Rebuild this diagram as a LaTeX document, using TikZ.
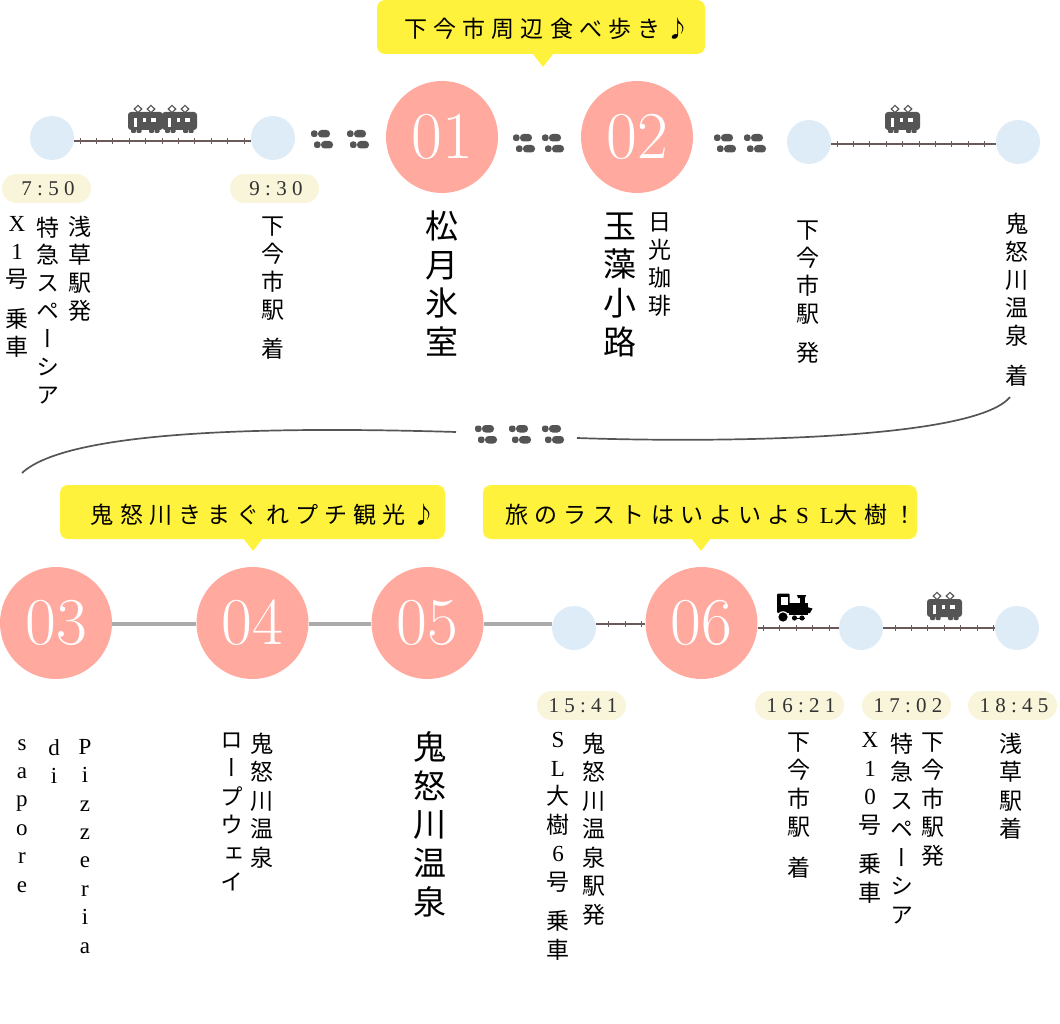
\documentclass[tikz,border=0pt]{standalone}
\usepackage{fontspec}
\newfontfamily\vertfont[RawFeature=+vert]{Noto Sans CJK JP}
\newfontfamily\bandfont[LetterSpace=27]{Noto Sans CJK JP}
\newfontfamily\romfont{Liberation Serif}
\newfontfamily\bandrom[LetterSpace=48]{Liberation Serif}
\newfontfamily\numfont[LetterSpace=25]{Liberation Serif}
\definecolor{stopred}{HTML}{FFA99F}
\definecolor{halt}{HTML}{DEECF8}
\definecolor{pill}{HTML}{F8F5DA}
\definecolor{band}{HTML}{FFF23C}
\definecolor{railcol}{HTML}{6A5A5A}
\definecolor{iconcol}{HTML}{555555}
\definecolor{road}{HTML}{ABABAB}
\tikzset{
	stop/.style={circle,fill=stopred,minimum size=112pt,inner sep=0pt,text=white,text height=43pt,text depth=0pt,font=\fontsize{67}{67}\selectfont},
	haltdot/.style={circle,fill=halt,minimum size=44pt,inner sep=0pt},
	timepill/.style={rectangle,rounded corners=14.5pt,fill=pill,minimum width=89pt,minimum height=29pt,inner sep=0pt,text=black!80,font=\numfont\fontsize{21}{21}\selectfont,execute at begin node=\kern3pt},
	bandbox/.style={rectangle,rounded corners=8pt,fill=band,minimum height=54pt,inner sep=0pt,text height=22pt,text depth=0pt,font=\bandfont\fontsize{23}{23}\selectfont},
	vsmall/.style={anchor=north,inner sep=0pt,align=center,font=\vertfont\fontsize{23}{27.9}\selectfont,execute at begin node=\strut},
	vlow/.style={anchor=north,inner sep=0pt,align=center,font=\vertfont\fontsize{23}{28.5}\selectfont,execute at begin node=\strut},
	vrom/.style={anchor=north,inner sep=0pt,align=center,font=\romfont\fontsize{23}{28.4}\selectfont,execute at begin node=\strut},
	vbig/.style={anchor=north,inner sep=0pt,align=center,font=\vertfont\fontsize{33}{38.6}\selectfont,execute at begin node=\strut},
	rail/.style={draw=railcol,line width=1.4pt},
	railtick/.style={draw=railcol,line width=.9pt},
	roadline/.style={draw=road,line width=4pt},
	traincar/.pic={
		\fill[iconcol,rounded corners=3pt] (0,7) rectangle (35,25);
		\foreach \w in {3,8.5,21,26.5} \fill[iconcol,rounded corners=1pt] (\w,24) rectangle (\w+5,28);
		\foreach \w in {10,23} \draw[iconcol,line width=1.1pt] (\w,0.4) -- (\w+3.8,4) -- (\w,7.6) -- (\w-3.8,4) -- cycle;
		\fill[white] (6,13) rectangle (9,22);
		\fill[white] (15,13) rectangle (18,17);
		\fill[white] (23,13) rectangle (28,17);
	},
	loco/.pic={
		\fill[black,rounded corners=1pt] (0,0.5) rectangle (12.5,20);
		\fill[black] (12,10) rectangle (31,20);
		\fill[black] (23,3) rectangle (27.5,11);
		\fill[black] (20,2) -- (29,2) -- (28,5) -- (21,5) -- cycle;
		\fill[black] (30,14) -- (35.5,15.5) -- (33,20) -- (30,20) -- cycle;
		\fill[white] (4,4) rectangle (10.5,11.5);
		\fill[white] (6,24) circle (5.8pt);
		\fill[black] (6,24) circle (4.6pt);
		\fill[black] (17.5,25) circle (2.6pt);
		\fill[black] (25,25) circle (2.6pt);
		\draw[black,line width=1pt] (17.5,25) -- (28,25);
		\fill[black] (12,20) rectangle (31,21.5);
	},
	feet/.pic={
		\foreach \dx/\dy in {0/0,3/11} {
			\fill[iconcol,rounded corners=2.5pt] (\dx,\dy+.5) rectangle (\dx+6.5,\dy+7);
			\fill[iconcol,rounded corners=3.5pt] (\dx+7,\dy) rectangle (\dx+19,\dy+7.5);
		}
	}
}
\begin{document}
\begin{tikzpicture}[x=1pt,y=-1pt]
\useasboundingbox (0,0) rectangle (1060,1024);
% yellow bands
\path (541,27) node[bandbox,minimum width=328pt] (band1) {\hspace*{12pt}下今市周辺食べ歩き♪}
		(252.5,512) node[bandbox,minimum width=385pt] (band2) {\hspace*{21pt}鬼怒川きまぐれプチ観光♪}
		(700,512) node[bandbox,minimum width=434pt] (band3) {\hspace*{22pt}旅のラストはいよいよ\kern6pt{\bandrom SL}\kern1pt 大樹！}
		;
\coordinate (tip1) at (543,67);
\coordinate (tip2) at (253,551);
\coordinate (tip3) at (701,551);
\foreach \t in {tip1,tip2,tip3}
	\fill[band] (\t) -- ++(-10,-13) -- ++(20,0) -- cycle;
% stops
\path (442,137) node[stop] (s01) {01}
		(637,137) node[stop] (s02) {02}
		(56,623) node[stop] (s03) {03}
		(252.5,623) node[stop] (s04) {04}
		(427.5,623) node[stop] (s05) {05}
		(701.5,623) node[stop] (s06) {06}
		(52,138) node[haltdot] (h1) {}
		(273,138) node[haltdot] (h2) {}
		(809,142) node[haltdot] (h3) {}
		(1018,142) node[haltdot] (h4) {}
		(574,628) node[haltdot] (h5) {}
		(861,628) node[haltdot] (h6) {}
		(1017,628) node[haltdot] (h7) {}
		;
% times
\path (46.5,188.5) node[timepill] (t750) {7:50}
		(274.5,188.5) node[timepill] (t930) {9:30}
		(581.5,705.5) node[timepill] (t1541) {15:41}
		(799.5,705.5) node[timepill] (t1621) {16:21}
		(906.5,705.5) node[timepill] (t1702) {17:02}
		(1012.5,705.5) node[timepill] (t1845) {18:45}
		;
% labels, upper row
\path (80,216.5) node[vsmall] (asakusa) {浅\\草\\駅\\発}
		(48,216.5) node[vsmall] (spacia) {特\\急\\ス\\ペ\\ー\\シ\\ア}
		(17,216.5) node[vsmall] (x1) {{\romfont X}\\{\romfont 1}\\号\\[12pt]乗\\車}
		(273,216.5) node[vsmall] (shimo1) {下\\今\\市\\駅\\[12pt]着}
		(442,210.5) node[vbig] (matsu) {松\\月\\氷\\室}
		(620,212.5) node[vbig] (tamamo) {玉\\藻\\小\\路}
		(660,212.5) node[vsmall] (nikko) {日\\光\\珈\\琲}
		(808,220.5) node[vsmall] (shimo2) {下\\今\\市\\駅\\[12pt]発}
		(1017,213) node[vsmall] (kinu1) {鬼\\怒\\川\\温\\泉\\[12pt]着}
		;
% labels, lower row
\path (85,739) node[vrom] (pizz) {P\\i\\z\\z\\e\\r\\i\\a}
		(54,739) node[vrom] (di) {d\\i}
		(22,739) node[vrom] (sapore) {s\\a\\p\\o\\r\\e}
		(262,732.5) node[vlow] (kinu2) {鬼\\怒\\川\\温\\泉}
		(232,732.5) node[vlow] (rope) {ロ\\ー\\プ\\ウ\\ェ\\イ}
		(430,731.5) node[vbig] (kinu3) {鬼\\怒\\川\\温\\泉}
		(594,732.5) node[vlow] (kinu4) {鬼\\怒\\川\\温\\泉\\駅\\発}
		(558,732.5) node[vlow] (taiju) {{\romfont S}\\{\romfont L}\\大\\樹\\{\romfont 6}\\号\\[11pt]乗\\車}
		(799,732.5) node[vlow] (shimo3) {下\\今\\市\\駅\\[12pt]着}
		(933,732.5) node[vlow] (shimo4) {下\\今\\市\\駅\\発}
		(902,732.5) node[vlow] (spacia2) {特\\急\\ス\\ペ\\ー\\シ\\ア}
		(870,732.5) node[vlow] (x10) {{\romfont X}\\{\romfont 1}\\{\romfont 0}\\号\\[11pt]乗\\車}
		(1011,732.5) node[vlow] (asakusa2) {浅\\草\\駅\\着}
		;
% rails
\draw[rail] ([yshift=-3pt]h1.east) -- ([yshift=-3pt]h2.west);
\foreach \x in {80,96.4,...,246}
	\draw[railtick] (\x,138) -- (\x,144);
\draw[rail] ([yshift=-2pt]h3.east) -- ([yshift=-2pt]h4.west);
\foreach \x in {837,853.4,...,996}
	\draw[railtick] (\x,141) -- (\x,147);
\draw[rail] ([yshift=4pt]h5.east) -- ([yshift=-1pt]s06.west);
\foreach \x in {608,625,641}
	\draw[railtick] (\x,621) -- (\x,627);
\draw[rail] (s06.east |- h6.west) -- (h6.west);
\foreach \x in {763,779.5,...,830}
	\draw[railtick] (\x,625) -- (\x,631);
\draw[rail] (h6.east) -- (h7.west);
\foreach \x in {895,911.4,...,995}
	\draw[railtick] (\x,625) -- (\x,631);
% roads between the stops
\draw[roadline] ([yshift=-1pt]s03.east) -- ([yshift=-1pt]s04.west);
\draw[roadline] ([yshift=-1pt]s04.east) -- ([yshift=-1pt]s05.west);
\draw[roadline] ([yshift=-1pt]s05.east) -- ([yshift=4pt]h5.west);
% the long bend
\coordinate (bendA) at (1010,397);
\coordinate (bendB) at (577,438);
\coordinate (bendC) at (456,432);
\coordinate (bendD) at (22,473);
\draw[iconcol,line width=1.7pt] (bendA) .. controls (975,440) and (720,443) .. (bendB);
\draw[iconcol,line width=1.7pt] (bendC) .. controls (290,427) and (70,428) .. (bendD);
% icons
\path (128,105) pic {traincar}
		(162,105) pic {traincar}
		(885,105) pic {traincar}
		(927,592) pic {traincar}
		(777,593) pic {loco}
		(311,130) pic {feet}
		(347,130) pic {feet}
		(513,134) pic {feet}
		(542,134) pic {feet}
		(714,134) pic {feet}
		(744,134) pic {feet}
		(475,425) pic {feet}
		(509,425) pic {feet}
		(542,425) pic {feet}
		;
\end{tikzpicture}
\end{document}
